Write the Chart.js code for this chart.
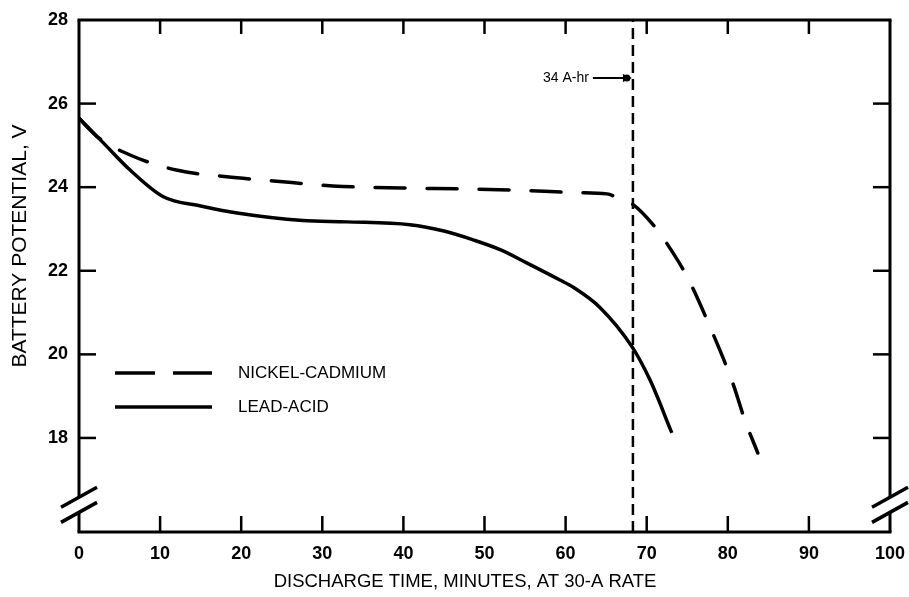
<!DOCTYPE html>
<html><head><meta charset="utf-8">
<script src="https://cdn.jsdelivr.net/npm/chart.js@4/dist/chart.umd.min.js"></script>
<style>html,body{margin:0;padding:0;background:#fff}</style>
</head><body>
<canvas id="c" width="909" height="597"></canvas>
<script>
// ---- data ----
const leadTime = [0, 3, 6.3, 10.4, 15, 19.5, 27.6, 33, 40.8, 45, 48.6, 52, 55.2, 59.3, 61, 64.2, 68.2, 70.4, 73.1];
const leadVolt = [25.65, 25.06, 24.41, 23.77, 23.55, 23.38, 23.2, 23.17, 23.1, 22.95, 22.74, 22.5, 22.19, 21.78, 21.6, 21.13, 20.18, 19.39, 18.12];
const nicadTime = [0, 2.3, 6.3, 12, 18.2, 24, 31.3, 40, 46.6, 54, 61.4, 65.1, 66.7, 68.2, 70.8, 72.6, 75, 77.6, 80.6, 82.1, 83.7];
const nicadVolt = [25.65, 25.2, 24.77, 24.41, 24.25, 24.15, 24.03, 23.98, 23.96, 23.93, 23.87, 23.84, 23.72, 23.6, 23.1, 22.62, 21.85, 20.75, 19.32, 18.43, 17.64];
const xTicks = [0, 10, 20, 30, 40, 50, 60, 70, 80, 90, 100];
const yTicks = [18, 20, 22, 24, 26, 28];
const xMin = 0, xMax = 100, yMin = 15.75, yMax = 28;
const yBreakLow = 16.22, yBreakHigh = 16.58;
const markerTime = 68.3;
const markerLabel = '34 A-hr';
const seriesNames = ['NICKEL-CADMIUM', 'LEAD-ACID'];
const xTitle = 'DISCHARGE TIME, MINUTES, AT 30-A RATE';
const yTitle = 'BATTERY POTENTIAL, V';

const FONT = '"Liberation Sans", Arial, sans-serif';
const pts = (xs, ys) => xs.map((v, i) => ({x: v, y: ys[i]}));

function seg(ctx, x1, y1, x2, y2) { ctx.beginPath(); ctx.moveTo(x1, y1); ctx.lineTo(x2, y2); ctx.stroke(); }

const decor = {
  id: 'decor',
  afterDatasetsDraw(chart) {
    const {ctx, chartArea: a, scales: {x, y}} = chart;
    ctx.save();
    ctx.strokeStyle = '#000'; ctx.fillStyle = '#000'; ctx.lineCap = 'butt';
    const yb1 = y.getPixelForValue(yBreakHigh), yb2 = y.getPixelForValue(yBreakLow);
    // frame
    ctx.lineWidth = 3;
    seg(ctx, a.left - 1.5, a.top, a.right + 1.5, a.top);
    seg(ctx, a.left - 1.5, a.bottom, a.right + 1.5, a.bottom);
    seg(ctx, a.left, a.top, a.left, yb1);
    seg(ctx, a.left, yb2, a.left, a.bottom);
    seg(ctx, a.right, a.top, a.right, yb1);
    seg(ctx, a.right, yb2, a.right, a.bottom);
    // inward ticks
    ctx.lineWidth = 2.5;
    xTicks.forEach(t => {
      if (t <= xMin || t >= xMax) return;
      const px = x.getPixelForValue(t);
      seg(ctx, px, a.bottom, px, a.bottom - 16);
      seg(ctx, px, a.top, px, a.top + 14);
    });
    yTicks.forEach(t => {
      if (t >= yMax) return;
      const py = y.getPixelForValue(t);
      seg(ctx, a.left, py, a.left + 17, py);
      seg(ctx, a.right, py, a.right - 17, py);
    });
    // axis breaks
    ctx.lineWidth = 3.5;
    [a.left, a.right].forEach(X => {
      [yb1, yb2].forEach(Y => seg(ctx, X - 18, Y + 10, X + 18, Y - 10));
    });
    // legend
    const lx1 = 115, lx2 = 212, tx = 238;
    const ly = [373, 407];
    ctx.lineWidth = 3.5;
    ctx.setLineDash([40, 18]);
    seg(ctx, lx1, ly[0], lx2, ly[0]);
    ctx.setLineDash([]);
    seg(ctx, lx1, ly[1], lx2, ly[1]);
    ctx.font = '17px ' + FONT;
    ctx.textBaseline = 'middle'; ctx.textAlign = 'left';
    ctx.fillText(seriesNames[0], tx, ly[0]);
    ctx.fillText(seriesNames[1], tx, ly[1]);
    // marker annotation
    const mx = x.getPixelForValue(markerTime);
    const ay = 78;
    ctx.textAlign = 'right';
    ctx.font = '14px ' + FONT;
    ctx.fillText(markerLabel, mx - 44, ay);
    ctx.lineWidth = 2;
    seg(ctx, mx - 40, ay, mx - 8, ay);
    ctx.beginPath(); ctx.arc(mx - 6, ay, 3.5, 0, Math.PI * 2); ctx.fill();
    ctx.beginPath(); ctx.moveTo(mx - 1, ay); ctx.lineTo(mx - 10, ay - 4); ctx.lineTo(mx - 10, ay + 4); ctx.closePath(); ctx.fill();
    // axis titles
    ctx.font = '18.5px ' + FONT;
    ctx.textAlign = 'center';
    ctx.fillText(xTitle, 465, 582);
    ctx.save();
    ctx.translate(20, 246);
    ctx.rotate(-Math.PI / 2);
    ctx.font = '21px ' + FONT;
    ctx.fillText(yTitle, 0, 0);
    ctx.restore();
    ctx.restore();
  }
};

new Chart(document.getElementById('c'), {
  type: 'line',
  data: {
    datasets: [
      {label: seriesNames[0], data: pts(nicadTime, nicadVolt), borderColor: '#000', borderWidth: 3.5,
       borderDash: [30, 22], borderCapStyle: 'round', pointRadius: 0, cubicInterpolationMode: 'monotone', fill: false},
      {label: seriesNames[1], data: pts(leadTime, leadVolt), borderColor: '#000', borderWidth: 3.5,
       pointRadius: 0, cubicInterpolationMode: 'monotone', fill: false},
      {label: markerLabel, data: [{x: markerTime, y: yMin}, {x: markerTime, y: yMax}], borderColor: '#000', borderWidth: 2.5,
       borderDash: [11, 6], pointRadius: 0, fill: false}
    ]
  },
  options: {
    responsive: false, animation: false, devicePixelRatio: 1,
    layout: {padding: {top: 20, right: 19, left: 0, bottom: 0}},
    plugins: {legend: {display: false}, tooltip: {enabled: false}},
    scales: {
      x: {type: 'linear', min: xMin, max: xMax,
          grid: {display: false, drawTicks: false}, border: {display: false},
          afterBuildTicks: s => { s.ticks = xTicks.map(v => ({value: v})); },
          afterFit: s => { s.height = 65; s.paddingLeft = 0; s.paddingRight = 0; },
          ticks: {color: '#000', font: {family: FONT, size: 18, weight: 'bold'}, padding: 11, maxRotation: 0, autoSkip: false}},
      y: {type: 'linear', min: yMin, max: yMax,
          grid: {display: false, drawTicks: false}, border: {display: false},
          afterBuildTicks: s => { s.ticks = yTicks.map(v => ({value: v})); },
          afterFit: s => { s.width = 79; s.paddingTop = 0; s.paddingBottom = 0; },
          ticks: {color: '#000', font: {family: FONT, size: 18, weight: 'bold'}, padding: 11}}
    }
  },
  plugins: [decor]
});
</script>
</body></html>
